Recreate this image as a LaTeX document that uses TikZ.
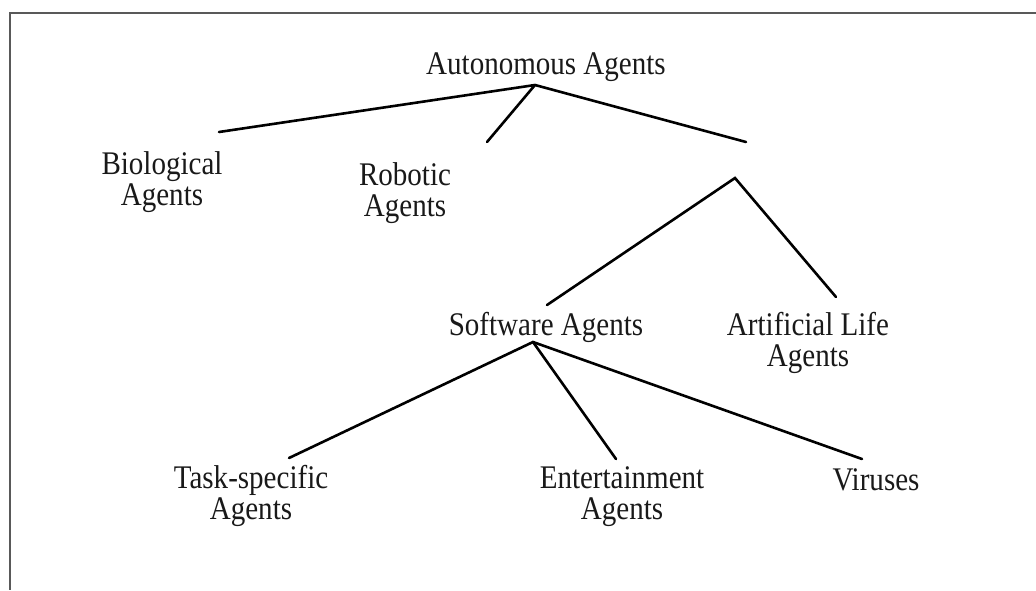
\documentclass[tikz,border=0pt]{standalone}
\usepackage{fontspec}
\setmainfont[FakeStretch=0.88]{Liberation Serif}
\begin{document}
\begin{tikzpicture}[x=1pt,y=-1pt,
  lbl/.style={font=\fontsize{33}{30.5}\selectfont, inner sep=0pt, align=center, text=black!90},
  edge/.style={line width=2.6pt, line cap=round, black},
  frame/.style={line width=2pt, black!65}]
  \useasboundingbox (0,0) rectangle (1036,590);
  % open frame: top and left sides only
  \coordinate (ftr) at (1036,13);
  \coordinate (fc) at (10,13);
  \coordinate (fbl) at (10,590);
  \draw[frame] (ftr) -- (fc) -- (fbl);

  % labels (base anchor sits on the last line)
  \node[lbl, anchor=base] (auto) at (546,74) {Autonomous Agents};
  \node[lbl, anchor=base] (bio) at (162,205) {Biological\\Agents};
  \node[lbl, anchor=base] (robo) at (405,216) {Robotic\\Agents};
  \node[lbl, anchor=base] (soft) at (546,335) {Software Agents};
  \node[lbl, anchor=base] (alife) at (808,366) {Artificial Life\\Agents};
  \node[lbl, anchor=base] (task) at (251,519) {Task-specific\\Agents};
  \node[lbl, anchor=base] (ent) at (622,519) {Entertainment\\Agents};
  \node[lbl, anchor=base] (vir) at (876,490) {Viruses};

  % branch points
  \coordinate (a0) at (535,85);
  \coordinate (a1) at (219,132);
  \coordinate (a2) at (487,142);
  \coordinate (a3) at (746,142);
  \coordinate (b0) at (735,178);
  \coordinate (b1) at (547,305);
  \coordinate (b2) at (836,297);
  \coordinate (s0) at (533,342);
  \coordinate (s1) at (289,458);
  \coordinate (s2) at (616,459);
  \coordinate (s3) at (862,459);

  \draw[edge] (a1) -- (a0) -- (a3);
  \draw[edge] (a0) -- (a2);
  \draw[edge] (b1) -- (b0) -- (b2);
  \draw[edge] (s1) -- (s0) -- (s3);
  \draw[edge] (s0) -- (s2);
\end{tikzpicture}
\end{document}
